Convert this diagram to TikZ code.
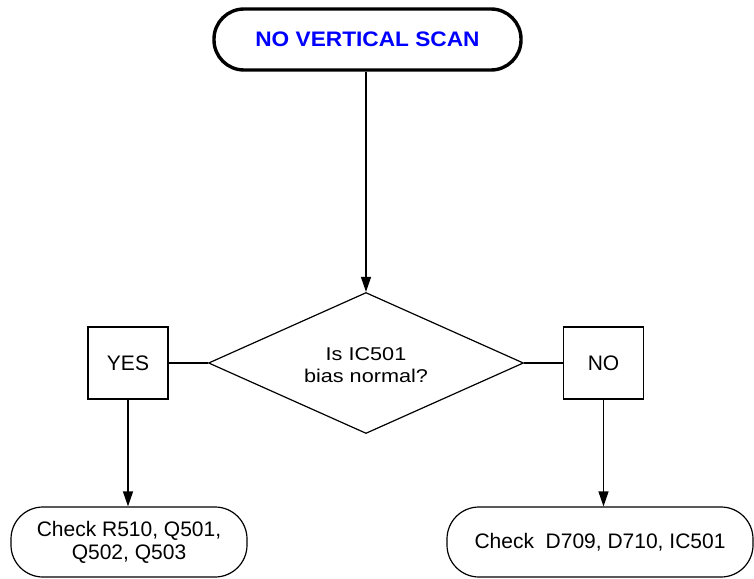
\documentclass[tikz,border=0pt]{standalone}
\usepackage{fontspec}
\setmainfont{Liberation Sans}
\newfontfamily\diafont[FakeStretch=1.17]{Liberation Sans}
\newfontfamily\topfont[FakeStretch=1.08]{Liberation Sans}
\usetikzlibrary{shapes.geometric,arrows.meta}
\begin{document}
\begin{tikzpicture}[x=1pt,y=-1pt,
  base/.style={draw=black,line width=1.2pt,inner sep=0pt,align=center,
    font=\fontsize{21pt}{23pt}\selectfont},
  terminal/.style={base,line width=3.4pt,minimum width=307pt,minimum height=61pt,
    rounded corners=30pt,text=blue,font=\topfont\bfseries\fontsize{21pt}{23pt}\selectfont},
  endbox/.style={base,minimum height=70pt,rounded corners=32pt},
  answer/.style={base,minimum width=80pt,minimum height=72pt},
  decision/.style={base,diamond,minimum width=315pt,minimum height=141pt,aspect=2.23},
  dtext/.style={font=\diafont\fontsize{18.5pt}{22pt}\selectfont,align=center,inner sep=0pt},
  link/.style={line width=1.2pt},
  arr/.style={link,-{Triangle[length=15pt,width=10pt]}}]
\useasboundingbox (0,0) rectangle (754,578);
\node[terminal] (start) at (367.5,39.5) {NO VERTICAL SCAN};
\node[decision] (q) at (366,363) {};
\node[dtext] (qt) at (366,365) {Is IC501\\bias normal?};
\node[answer] (yes) at (128,363) {YES};
\node[answer] (no) at (603.5,363) {NO};
\node[endbox,minimum width=236pt] (left) at (129,542) {Check R510, Q501,\\Q502, Q503};
\node[endbox,minimum width=306pt] (right) at (600,542) {Check\ \ D709, D710, IC501};
\draw[arr] (start.south -| q.north) -- (q.north);
\draw[link] (yes.east) -- (q.west);
\draw[link] (q.east) -- (no.west);
\draw[arr] (yes.south) -- (yes.south |- left.north);
\draw[arr] (no.south) -- (no.south |- right.north);
\end{tikzpicture}
\end{document}
